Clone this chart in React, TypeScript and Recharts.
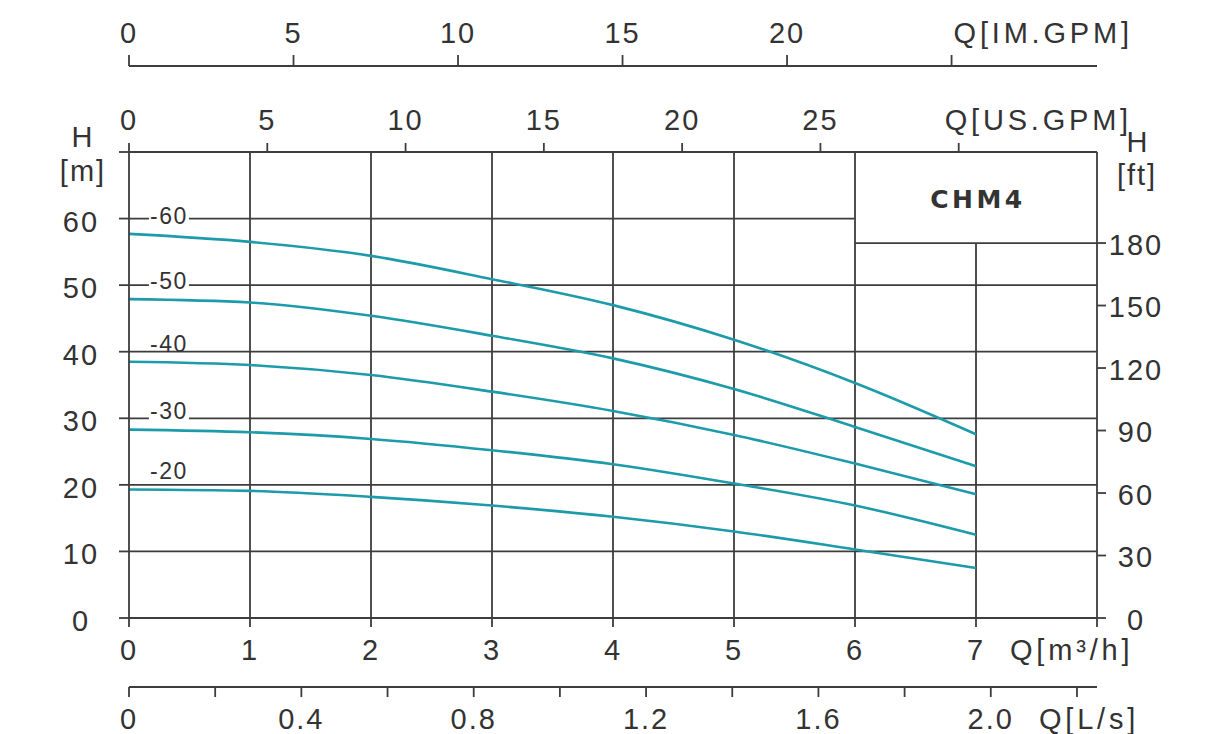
import {
  LineChart,
  Line,
  XAxis,
  YAxis,
  CartesianGrid,
  ReferenceLine,
  ReferenceDot,
  ReferenceArea,
} from 'recharts';

// flow in m³/h and head in m
const flowM3h = [0, 1, 2, 3, 4, 5, 6, 7];
const head60 = [57.7, 56.5, 54.4, 50.9, 47.0, 41.8, 35.3, 27.6];
const head50 = [47.9, 47.4, 45.4, 42.4, 39.0, 34.4, 28.7, 22.8];
const head40 = [38.5, 38.0, 36.5, 34.0, 31.1, 27.5, 23.2, 18.6];
const head30 = [28.3, 27.9, 26.9, 25.2, 23.1, 20.2, 16.9, 12.5];
const head20 = [19.3, 19.1, 18.2, 16.9, 15.2, 13.0, 10.3, 7.5];
const curveNames = ['-60', '-50', '-40', '-30', '-20'];

// axis ticks and their labels
const m3hTicks = [0, 1, 2, 3, 4, 5, 6, 7, 8];
const m3hLabels = ['0', '1', '2', '3', '4', '5', '6', '7', 'Q[m³/h]'];
const lsTicks = [0, 0.2, 0.4, 0.6, 0.8, 1.0, 1.2, 1.4, 1.6, 1.8, 2.0, 2.2];
const lsLabels = ['0', '', '0.4', '', '0.8', '', '1.2', '', '1.6', '', '2.0', 'Q[L/s]'];
const usTicks = [0, 5, 10, 15, 20, 25, 30];
const usLabels = ['0', '5', '10', '15', '20', '25', 'Q[US.GPM]'];
const imTicks = [0, 5, 10, 15, 20, 25];
const imLabels = ['0', '5', '10', '15', '20', 'Q[IM.GPM]'];
const mTicks = [0, 10, 20, 30, 40, 50, 60, 70];
const ftTicks = [0, 30, 60, 90, 120, 150, 180];

const heads = [head60, head50, head40, head30, head20];
const data = flowM3h.map((q, i) => {
  const row: Record<string, number> = { q };
  curveNames.forEach((n, k) => (row[n] = heads[k][i]));
  return row;
});

const TEAL = '#1d9bab';
const INK = '#333333';
const GRID = '#3d3d3d';
const FONT = '"Liberation Sans", Arial, Helvetica, sans-serif';
const tickText = { fontFamily: FONT, fontSize: 29, fill: INK, letterSpacing: 2 };
const unitText = { ...tickText, letterSpacing: 3.8 };
const axisLine = { stroke: GRID, strokeWidth: 1.8 };

// tags with a white gap in the gridline behind them
const tagGap = [true, true, false, true, false];

function hTick(values: number[], labels: string[], up: boolean, len: number, base: number, unitDx: number) {
  return (p: any) => {
    const { x, y, payload } = p;
    const i = values.indexOf(payload.value);
    const last = i === values.length - 1;
    const d = up ? -1 : 1;
    return (
      <g>
        <line x1={x} x2={x} y1={y} y2={y + d * len} stroke={GRID} strokeWidth={1.8} />
        <text
          x={last ? x + unitDx : x}
          y={y + d * base}
          textAnchor={last ? 'start' : 'middle'}
          style={last ? unitText : tickText}
        >
          {labels[i]}
        </text>
      </g>
    );
  };
}

function LeftTick(p: any) {
  const { x, y, payload } = p;
  const v = payload.value;
  return (
    <g>
      <line x1={x - 10} x2={x} y1={y} y2={y} stroke={GRID} strokeWidth={1.8} />
      {v === 70 ? (
        <>
          <text x={x - 46} y={y - 5} textAnchor="middle" style={tickText}>H</text>
          <text x={x - 46} y={y + 29} textAnchor="middle" style={tickText}>[m]</text>
        </>
      ) : (
        <text x={x - 48} y={y + 13} textAnchor="middle" style={tickText}>{v}</text>
      )}
    </g>
  );
}

function RightTick(p: any) {
  const { x, y, payload } = p;
  return (
    <g>
      <line x1={x} x2={x + 9} y1={y} y2={y} stroke={GRID} strokeWidth={1.8} />
      <text x={x + 39} y={y + 11.5} textAnchor="middle" style={tickText}>{payload.value}</text>
    </g>
  );
}

function FtTitle(p: any) {
  const { x, y } = p.viewBox;
  return (
    <g>
      <text x={x + 41} y={y} textAnchor="middle" style={tickText}>H</text>
      <text x={x + 40} y={y + 33} textAnchor="middle" style={tickText}>[ft]</text>
    </g>
  );
}

function BoxTitle(p: any) {
  const { x, y, width, height } = p.viewBox;
  return (
    <text
      x={x + width / 2 + 2}
      y={y + height / 2 + 10}
      textAnchor="middle"
      style={{ fontFamily: '"DejaVu Sans", sans-serif', fontSize: 25, fontWeight: 'bold', fill: INK, letterSpacing: 3.5 }}
    >
      CHM4
    </text>
  );
}

function CurveTag({ cx, cy, text, gap }: any) {
  return (
    <g>
      {gap && <rect x={cx - 20} y={cy - 9} width={40} height={20} fill="#fff" />}
      <text
        x={cx}
        y={cy + 8.5}
        textAnchor="middle"
        style={{ fontFamily: FONT, fontSize: 23, fill: INK, letterSpacing: 1.5 }}
      >
        {text}
      </text>
    </g>
  );
}

const ftMax = 223.7;

export default function App() {
  return (
    <div style={{ position: 'absolute', left: 0, top: 0, width: 1212, height: 734 }}>
      <LineChart width={1212} height={734} data={data} margin={{ top: 0, right: 0, bottom: 0, left: 0 }}>
        {/* outer top axis first, the one next to the plot after it */}
        <XAxis
          xAxisId="b_im"
          orientation="top"
          dataKey="q"
          type="number"
          domain={[0, 29.42]}
          ticks={imTicks}
          interval={0}
          height={66}
          tickSize={0}
          tickMargin={0}
          tickLine={false}
          axisLine={axisLine}
          tick={hTick(imTicks, imLabels, true, 11, 23, 2)}
          allowDataOverflow
        />
        <XAxis
          xAxisId="a_us"
          orientation="top"
          dataKey="q"
          type="number"
          domain={[0, 35]}
          ticks={usTicks}
          interval={0}
          height={86}
          tickSize={0}
          tickMargin={0}
          tickLine={false}
          axisLine={axisLine}
          tick={hTick(usTicks, usLabels, true, 9, 22, -14)}
          allowDataOverflow
        />
        <XAxis
          xAxisId="b_ls"
          dataKey="q"
          type="number"
          domain={[0, 2.2465]}
          ticks={lsTicks}
          interval={0}
          height={47}
          tickSize={0}
          tickMargin={0}
          tickLine={false}
          axisLine={axisLine}
          tick={hTick(lsTicks, lsLabels, false, 10, 42, -38)}
          allowDataOverflow
        />
        <XAxis
          xAxisId="a_m3h"
          dataKey="q"
          type="number"
          domain={[0, 8]}
          ticks={m3hTicks}
          interval={0}
          height={69}
          tickSize={0}
          tickMargin={0}
          tickLine={false}
          axisLine={axisLine}
          tick={hTick(m3hTicks, m3hLabels, false, 9, 42, -87)}
          allowDataOverflow
        />
        <YAxis
          yAxisId="m"
          type="number"
          domain={[0, 70]}
          ticks={mTicks}
          interval={0}
          width={129}
          tickSize={0}
          tickMargin={0}
          tickLine={false}
          axisLine={axisLine}
          tick={LeftTick}
          allowDataOverflow
        />
        <YAxis
          yAxisId="ft"
          orientation="right"
          type="number"
          domain={[0, ftMax]}
          ticks={ftTicks}
          interval={0}
          width={115}
          tickSize={0}
          tickMargin={0}
          tickLine={false}
          axisLine={axisLine}
          tick={RightTick}
          label={<FtTitle />}
          allowDataOverflow
        />
        <CartesianGrid
          xAxisId="a_m3h"
          yAxisId="m"
          stroke={GRID}
          strokeWidth={1.8}
          horizontalValues={mTicks.filter((v) => v > 0 && v < 60)}
          verticalValues={m3hTicks.filter((v) => v > 0 && v < 7)}
        />
        <ReferenceLine xAxisId="a_m3h" yAxisId="m" segment={[{ x: 0, y: 60 }, { x: 6, y: 60 }]} stroke={GRID} strokeWidth={1.8} />
        <ReferenceLine xAxisId="a_m3h" yAxisId="ft" segment={[{ x: 7, y: 0 }, { x: 7, y: 180 }]} stroke={GRID} strokeWidth={1.8} />
        <ReferenceLine xAxisId="a_m3h" yAxisId="ft" segment={[{ x: 6, y: 180 }, { x: 8, y: 180 }]} stroke={GRID} strokeWidth={1.8} />
        <ReferenceArea
          xAxisId="a_m3h"
          yAxisId="ft"
          x1={6}
          x2={8}
          y1={180}
          y2={ftMax}
          fill="#fff"
          fillOpacity={0}
          stroke="none"
          label={<BoxTitle />}
        />
        {curveNames.map((n) => (
          <Line
            key={n}
            xAxisId="a_m3h"
            yAxisId="m"
            dataKey={n}
            type="monotone"
            stroke={TEAL}
            strokeWidth={2.6}
            dot={false}
            isAnimationActive={false}
          />
        ))}
        {curveNames.map((n, k) => (
          <ReferenceDot
            key={'tag' + n}
            xAxisId="a_m3h"
            yAxisId="m"
            x={0.33}
            y={heads[k][0] + 2.8}
            r={0}
            shape={(p: any) => <CurveTag cx={p.cx} cy={p.cy} text={n} gap={tagGap[k]} />}
          />
        ))}
      </LineChart>
    </div>
  );
}
